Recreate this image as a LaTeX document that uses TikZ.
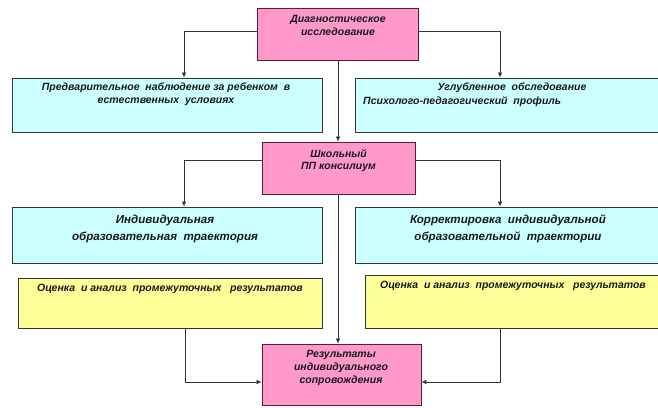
\documentclass[tikz,border=0pt]{standalone}
\usepackage{fontspec}
\setmainfont{Liberation Sans}
\usetikzlibrary{arrows.meta}
\definecolor{pinkf}{HTML}{FF99CC}
\definecolor{pinkd}{HTML}{5A1A3A}
\definecolor{bluef}{HTML}{CCFFFF}
\definecolor{yelf}{HTML}{FFFF99}
\definecolor{edgec}{HTML}{333333}
\begin{document}
\begin{tikzpicture}[x=1pt,y=-1pt,
  box/.style={draw=edgec, line width=0.8pt, inner sep=0pt, anchor=center},
  pbox/.style={box, fill=pinkf, draw=pinkd},
  bbox/.style={box, fill=bluef},
  ybox/.style={box, fill=yelf},
  lbl/.style={font=\bfseries\itshape\fontsize{10.5}{12.8}\selectfont, align=center, anchor=north, inner sep=0pt, text=black!90},
  lblbig/.style={lbl, font=\bfseries\itshape\fontsize{11.6}{16.5}\selectfont},
  conn/.style={draw=edgec, line width=0.7pt, -{Latex[length=5pt,width=4.5pt]}}
]
\path[use as bounding box] (0,0) rectangle (658,407);
\clip (0,0) rectangle (658,407);
% boxes
\node[pbox, minimum width=161pt, minimum height=52pt] (diag) at (337.5,34) {};
\node[bbox, minimum width=310pt, minimum height=54pt] (pred) at (167,105) {};
\node[bbox, minimum width=310pt, minimum height=54pt] (uglub) at (510,105) {};
\node[pbox, minimum width=153pt, minimum height=52pt] (shk) at (338.5,168) {};
\node[bbox, minimum width=310pt, minimum height=56pt] (ind) at (167,235) {};
\node[bbox, minimum width=310pt, minimum height=56pt] (korr) at (510,235) {};
\node[ybox, minimum width=304pt, minimum height=50pt] (ocL) at (170,303) {};
\node[ybox, minimum width=305pt, minimum height=53pt] (ocR) at (517.5,301.5) {};
\node[pbox, minimum width=159pt, minimum height=61pt] (res) at (341.5,374.5) {};
% texts
\node[lbl] (diagT) at (338,15) {Диагностическое\\исследование};
\node[lbl] (predT) at (166,83) {Предварительное \ наблюдение за ребенком \ в\\естественных \ условиях};
\node[lbl] (uglubA) at (512,83) {Углубленное \ обследование};
\node[lbl, anchor=north west] (uglubB) at (363,96) {Психолого-педагогический \ профиль};
\node[lbl] (shkT) at (338.5,149) {Школьный\\ПП консилиум};
\node[lblbig] (indT) at (165,215) {Индивидуальная\\образовательная \ траектория};
\node[lblbig] (korrT) at (508,215) {Корректировка \ индивидуальной\\образовательной \ траектории};
\node[lbl] (ocLT) at (170,284) {Оценка \ и анализ \ промежуточных \ \ результатов};
\node[lbl] (ocRT) at (513,281) {Оценка \ и анализ \ промежуточных \ \ результатов};
\node[lbl] (resT) at (341,350) {Результаты\\индивидуального\\сопровождения};
% connectors
\coordinate (c0) at (338,0);
\coordinate (c1) at (184,31);
\coordinate (c2) at (500,31);
\coordinate (c3) at (184,160);
\coordinate (c4) at (500,160);
\coordinate (c5) at (185,382);
\coordinate (c6) at (500,382);
\draw[conn] (diag.west |- c1) -- (c1) -- (c1 |- pred.north);
\draw[conn] (diag.east |- c2) -- (c2) -- (c2 |- uglub.north);
\draw[conn] (c0 |- diag.south) -- (c0 |- shk.north);
\draw[conn] (shk.west |- c3) -- (c3) -- (c3 |- ind.north);
\draw[conn] (shk.east |- c4) -- (c4) -- (c4 |- korr.north);
\draw[conn] (c0 |- shk.south) -- (c0 |- res.north);
\draw[conn] (c5 |- ocL.south) -- (c5) -- (res.west |- c5);
\draw[conn] (c6 |- ocR.south) -- (c6) -- (res.east |- c6);
\end{tikzpicture}
\end{document}
